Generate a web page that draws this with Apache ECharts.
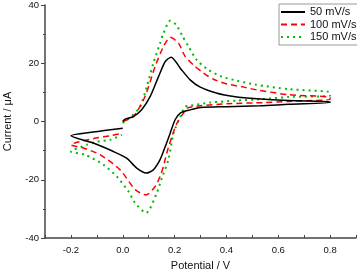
<!DOCTYPE html>
<html>
<head>
<meta charset="utf-8">
<script src="https://cdn.jsdelivr.net/npm/echarts@6/dist/echarts.min.js"></script>
<style>html,body{margin:0;padding:0;background:#fff;}#c{width:357px;height:272px;}</style>
</head>
<body>
<div id="c"></div>
<script>
// Series names
const seriesNames = ['50 mV/s', '100 mV/s', '150 mV/s'];
// 50 mV/s
const potential50 = [0.0, 0.009, 0.041, 0.073, 0.106, 0.138, 0.164, 0.187, 0.222, 0.26, 0.299, 0.364, 0.428, 0.518, 0.64, 0.8,
  0.8, 0.64, 0.53, 0.40, 0.30, 0.26, 0.222, 0.202, 0.183, 0.164, 0.144, 0.118, 0.09, 0.054, 0.015, -0.036, -0.114, -0.2, -0.114, 0.0];
const current50 = [0.0, 0.8, 1.7, 4.0, 8.6, 15.4, 20.6, 22.1, 18.3, 14.3, 11.8, 9.7, 8.6, 7.8, 7.2, 6.8,
  6.5, 5.9, 5.4, 5.1, 4.8, 4.0, 2.9, 0.6, -4.0, -8.6, -13.1, -16.6, -17.7, -16.0, -12.6, -10.3, -7.4, -4.9, -3.6, -2.3];
// 100 mV/s
const potential100 = [0.0, 0.041, 0.086, 0.125, 0.157, 0.183, 0.215, 0.241, 0.273, 0.312, 0.35, 0.402, 0.467, 0.52, 0.64, 0.8,
  0.8, 0.64, 0.55, 0.402, 0.299, 0.247, 0.234, 0.209, 0.19, 0.17, 0.157, 0.144, 0.125, 0.09, 0.048, -0.01, -0.088, -0.152, -0.2, -0.114, -0.049, 0.0];
const current100 = [0.0, 1.7, 8.6, 18.9, 25.7, 28.9, 26.9, 22.3, 19.4, 16.6, 14.5, 12.9, 11.8, 10.8, 9.2, 8.3,
  7.6, 6.9, 6.5, 6.1, 5.4, 4.6, 2.9, -0.6, -5.1, -10.8, -15.4, -18.9, -22.3, -25.2, -23.4, -16.6, -11.4, -9.1, -8.0, -5.9, -4.9, -4.0];
// 150 mV/s
const potential150 = [0.0, 0.03, 0.067, 0.093, 0.118, 0.144, 0.157, 0.183, 0.206, 0.228, 0.254, 0.286, 0.331, 0.383, 0.441, 0.51, 0.64, 0.8,
  0.8, 0.64, 0.525, 0.441, 0.338, 0.26, 0.241, 0.222, 0.196, 0.176, 0.151, 0.131, 0.09, 0.048, 0.022, -0.023, -0.075, -0.146, -0.2, -0.139, -0.1, -0.049, -0.004];
const current150 = [-0.5, 1.5, 5.1, 12.0, 20.0, 26.9, 30.3, 34.6, 33.2, 29.7, 25.7, 21.1, 17.7, 15.4, 14.0, 12.7, 11.1, 10.0,
  8.9, 8.4, 7.6, 7.2, 6.5, 5.4, 5.1, 1.7, -4.0, -13.1, -19.4, -24.6, -31.4, -28.0, -24.0, -18.9, -14.8, -11.4, -10.3, -8.0, -6.9, -6.3, -4.6];
// Axis ticks
const yTickLabels = [-40, -20, 0, 20, 40];
const xTickLabels = [-0.2, 0.0, 0.2, 0.4, 0.6, 0.8];

function zip(a, b) { return a.map((v, i) => [v, b[i]]); }

const chart = echarts.init(document.getElementById('c'), null, {renderer: 'canvas'});
const axisColor = '#444';
const textColor = '#111';
const font = 'Liberation Sans, Arial, sans-serif';

chart.setOption({
  animation: false,
  backgroundColor: '#fff',
  grid: {left: 45, top: 5, width: 311, height: 233, containLabel: false, outerBoundsMode: 'none'},
  legend: {
    left: 279, top: 4,
    orient: 'vertical',
    borderColor: '#999', borderWidth: 1,
    padding: [2, 3, 2, 1],
    itemGap: 0.5,
    itemWidth: 24, itemHeight: 12,
    itemStyle: {opacity: 0},
    textStyle: {fontSize: 11, fontFamily: font, color: textColor, lineHeight: 12},
    data: seriesNames
  },
  xAxis: {
    type: 'value', min: -0.3, max: 0.9, interval: 0.1,
    name: 'Potential / V', nameLocation: 'middle', nameGap: 22,
    nameTextStyle: {fontSize: 11, fontFamily: font, color: textColor},
    axisLine: {onZero: false, lineStyle: {color: axisColor, width: 1.5}},
    axisTick: {inside: true, length: 3, lineStyle: {color: axisColor}},
    splitLine: {show: false},
    axisLabel: {
      fontSize: 9.5, fontFamily: font, color: textColor, margin: 7,
      formatter: v => { const k = Math.round(v * 10); return (k % 2 === 0 && xTickLabels.includes(k / 10)) ? (k / 10).toFixed(1) : ''; }
    }
  },
  yAxis: {
    type: 'value', min: -40, max: 40, interval: 20,
    name: 'Current / μA', nameLocation: 'middle', nameGap: 32,
    nameTextStyle: {fontSize: 11, fontFamily: font, color: textColor},
    axisLine: {show: true, onZero: false, lineStyle: {color: axisColor, width: 1.5}},
    axisTick: {show: true, inside: false, length: 4, lineStyle: {color: axisColor}},
    minorTick: {show: true, splitNumber: 2, length: 2, lineStyle: {color: axisColor}},
    splitLine: {show: false},
    minorSplitLine: {show: false},
    axisLabel: {
      fontSize: 9.5, fontFamily: font, color: textColor, margin: 6,
      formatter: v => yTickLabels.includes(v) ? String(v) : ''
    }
  },
  series: [
    {name: seriesNames[0], type: 'line', data: zip(potential50, current50), showSymbol: false, symbol: 'none', smooth: 0.25,
     lineStyle: {color: '#000', width: 1.5, type: 'solid'}, itemStyle: {color: '#000'}, z: 3},
    {name: seriesNames[1], type: 'line', data: zip(potential100, current100), showSymbol: false, symbol: 'none', smooth: 0.25,
     lineStyle: {color: '#ff0000', width: 1.5, type: [6, 4]}, itemStyle: {color: '#ff0000'}, z: 2},
    {name: seriesNames[2], type: 'line', data: zip(potential150, current150), showSymbol: false, symbol: 'none', smooth: 0.25,
     lineStyle: {color: '#00bb00', width: 2, type: [2, 4]}, itemStyle: {color: '#00bb00'}, z: 1}
  ]
});
</script>
</body>
</html>
